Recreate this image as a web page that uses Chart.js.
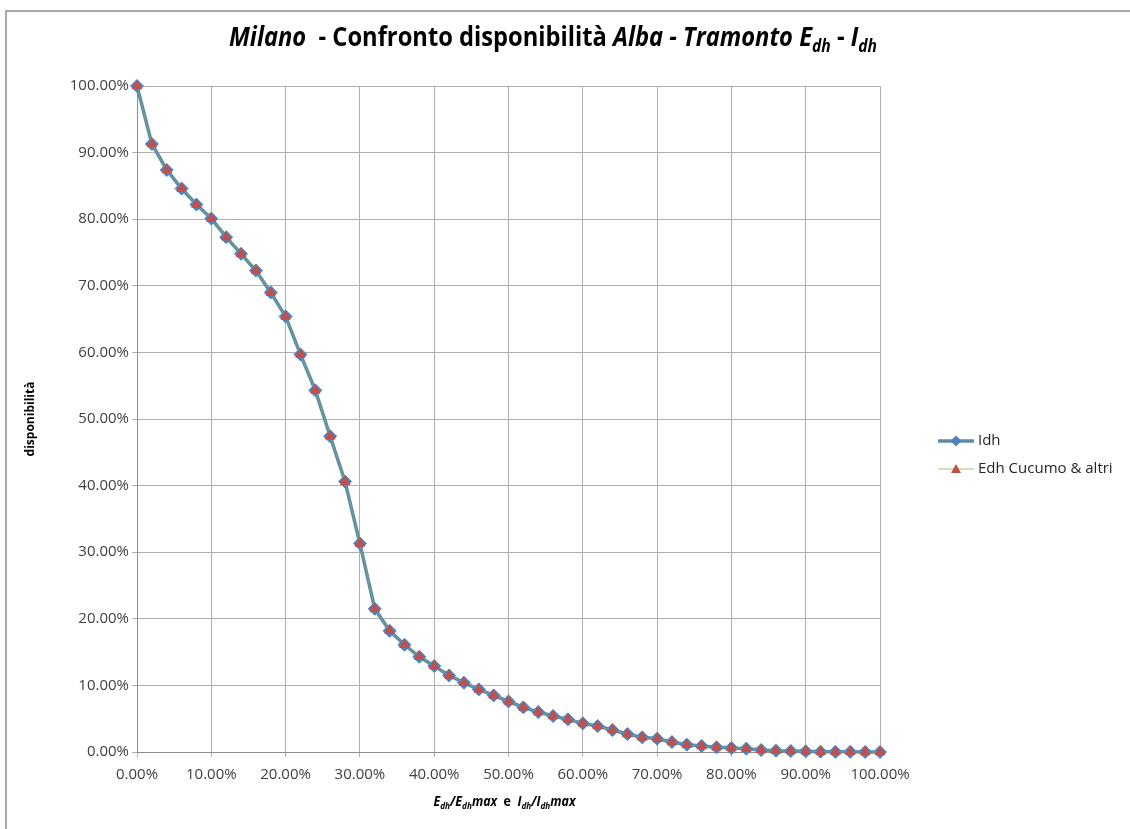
<!DOCTYPE html>
<html>
<head>
<meta charset="utf-8">
<script src="https://cdn.jsdelivr.net/npm/chart.js@4.4.0/dist/chart.umd.min.js"></script>
<style>
  html, body { margin: 0; padding: 0; background: #fff; }
  #wrap { position: relative; width: 1130px; height: 829px; overflow: hidden; background: #fff; }
  #frame { position: absolute; left: 5px; top: 10px; width: 1300px; height: 1000px;
           border-left: 2px solid #A8A8A8; border-top: 2px solid #A8A8A8; }
  canvas { position: absolute; left: 0; top: 0; }
</style>
</head>
<body>
<div id="wrap">
  <div id="frame"></div>
  <canvas id="c" width="1130" height="829"></canvas>
</div>
<script>
// Relative irradiance (share of the daily maximum), one sample every 2 %
const xShare = [0.00, 0.02, 0.04, 0.06, 0.08, 0.10, 0.12, 0.14, 0.16, 0.18,
                0.20, 0.22, 0.24, 0.26, 0.28, 0.30, 0.32, 0.34, 0.36, 0.38,
                0.40, 0.42, 0.44, 0.46, 0.48, 0.50, 0.52, 0.54, 0.56, 0.58,
                0.60, 0.62, 0.64, 0.66, 0.68, 0.70, 0.72, 0.74, 0.76, 0.78,
                0.80, 0.82, 0.84, 0.86, 0.88, 0.90, 0.92, 0.94, 0.96, 0.98, 1.00];

// Availability (%) – Idh series
const idh = [100.0, 91.3, 87.4, 84.6, 82.2, 80.1, 77.3, 74.8, 72.3, 69.0,
             65.4, 59.7, 54.3, 47.4, 40.6, 31.3, 21.5, 18.2, 16.1, 14.3,
             12.9, 11.5, 10.4, 9.4, 8.5, 7.6, 6.7, 6.0, 5.4, 4.9,
             4.3, 3.9, 3.3, 2.7, 2.2, 2.0, 1.5, 1.1, 0.9, 0.7,
             0.6, 0.5, 0.3, 0.2, 0.15, 0.1, 0.05, 0.03, 0.02, 0.01, 0.0];

// Availability (%) – Edh, Cucumo & altri
const edhCucumo = [100.0, 91.3, 87.4, 84.6, 82.2, 80.1, 77.3, 74.8, 72.3, 69.0,
                   65.4, 59.7, 54.3, 47.4, 40.6, 31.3, 21.5, 18.2, 16.1, 14.3,
                   12.9, 11.5, 10.4, 9.4, 8.5, 7.6, 6.7, 6.0, 5.4, 4.9,
                   4.3, 3.9, 3.3, 2.7, 2.2, 2.0, 1.5, 1.1, 0.9, 0.7,
                   0.6, 0.5, 0.3, 0.2, 0.15, 0.1, 0.05, 0.03, 0.02, 0.01, 0.0];

const xTickLabels = ['0.00%', '10.00%', '20.00%', '30.00%', '40.00%', '50.00%',
                     '60.00%', '70.00%', '80.00%', '90.00%', '100.00%'];
const yTickLabels = ['0.00%', '10.00%', '20.00%', '30.00%', '40.00%', '50.00%',
                     '60.00%', '70.00%', '80.00%', '90.00%', '100.00%'];

const seriesNames = ['Idh', 'Edh Cucumo & altri'];

const FONT = '"Open Sans", "Noto Sans", sans-serif';
const IDH_LINE = '#5B8CA4';
const IDH_MARK = '#4F81BD';
const EDH_LINE = '#A9C46C';
const EDH_MARK = '#C0504D';

function points(values) {
  return xShare.map((x, i) => ({ x: x, y: values[i] / 100 }));
}

function partFont(p, size) {
  const s = p.sub ? size * 0.66 : size;
  return (p.italic ? 'italic ' : '') + 'bold ' + s.toFixed(2) + 'px ' + FONT;
}

// Draws a run of text pieces (normal / italic / subscript) centred on cx,
// squeezed horizontally so the whole run is `width` pixels wide
function richText(ctx, parts, cx, baseline, size, width, color) {
  let total = 0;
  const widths = parts.map(p => { ctx.font = partFont(p, size); const w = ctx.measureText(p.t).width; total += w; return w; });
  const k = width / total;
  ctx.save();
  ctx.translate(cx - width / 2, baseline);
  ctx.scale(k, 1);
  ctx.fillStyle = color;
  ctx.textAlign = 'left';
  ctx.textBaseline = 'alphabetic';
  let x = 0;
  parts.forEach((p, i) => {
    ctx.font = partFont(p, size);
    ctx.fillText(p.t, x, p.sub ? size * 0.22 : 0);
    x += widths[i];
  });
  ctx.restore();
}

const titleParts = [
  { t: 'Milano', italic: true },
  { t: '  - Confronto disponibilità ' },
  { t: 'Alba - Tramonto', italic: true },
  { t: ' E', italic: true },
  { t: 'dh', italic: true, sub: true },
  { t: ' - ' },
  { t: 'I', italic: true },
  { t: 'dh', italic: true, sub: true }
];

const xTitleParts = [
  { t: 'E', italic: true }, { t: 'dh', italic: true, sub: true },
  { t: '/E', italic: true }, { t: 'dh', italic: true, sub: true },
  { t: 'max', italic: true }, { t: '  e  ' },
  { t: 'I', italic: true }, { t: 'dh', italic: true, sub: true },
  { t: '/I', italic: true }, { t: 'dh', italic: true, sub: true },
  { t: 'max', italic: true }
];

const decorations = {
  id: 'decorations',
  afterDraw(chart) {
    const ctx = chart.ctx;
    const area = chart.chartArea;
    ctx.save();

    // chart title
    richText(ctx, titleParts, 553, 46, 26, 648, '#000');

    // x-axis title
    richText(ctx, xTitleParts, (area.left + area.right) / 2 - 4, 806, 14, 142, '#000');

    // legend
    const lx = 938, lw = 36;
    const rows = [441, 469];
    ctx.font = '15px ' + FONT;
    ctx.textBaseline = 'middle';
    ctx.textAlign = 'left';

    // Idh entry
    let y = rows[0];
    ctx.strokeStyle = IDH_LINE; ctx.lineWidth = 3.5;
    ctx.beginPath(); ctx.moveTo(lx, y); ctx.lineTo(lx + lw, y); ctx.stroke();
    ctx.fillStyle = IDH_MARK;
    ctx.beginPath();
    ctx.moveTo(lx + lw / 2, y - 5.5); ctx.lineTo(lx + lw / 2 + 5.5, y);
    ctx.lineTo(lx + lw / 2, y + 5.5); ctx.lineTo(lx + lw / 2 - 5.5, y);
    ctx.closePath(); ctx.fill();
    ctx.fillStyle = '#262626';
    ctx.fillText(seriesNames[0], lx + lw + 4, y);

    // Edh entry
    y = rows[1];
    ctx.strokeStyle = EDH_LINE; ctx.lineWidth = 1.2;
    ctx.beginPath(); ctx.moveTo(lx, y); ctx.lineTo(lx + lw, y); ctx.stroke();
    ctx.fillStyle = EDH_MARK;
    ctx.beginPath();
    ctx.moveTo(lx + lw / 2, y - 5); ctx.lineTo(lx + lw / 2 + 5, y + 4);
    ctx.lineTo(lx + lw / 2 - 5, y + 4);
    ctx.closePath(); ctx.fill();
    ctx.fillStyle = '#262626';
    ctx.fillText(seriesNames[1], lx + lw + 4, y);

    ctx.restore();
  }
};

const tickIndex = v => Math.round(v * 10);

new Chart(document.getElementById('c'), {
  type: 'line',
  data: {
    datasets: [
      {
        label: seriesNames[1],
        data: points(edhCucumo),
        order: 0,
        clip: false,
        borderColor: 'rgba(169,196,108,0.35)',
        borderWidth: 1,
        pointStyle: 'triangle',
        pointRadius: 5.5,
        pointBackgroundColor: EDH_MARK,
        pointBorderColor: EDH_MARK,
        pointBorderWidth: 1,
        tension: 0
      },
      {
        label: seriesNames[0],
        data: points(idh),
        order: 1,
        clip: false,
        borderColor: IDH_LINE,
        borderWidth: 3.5,
        pointStyle: 'rectRot',
        pointRadius: 6.5,
        pointBackgroundColor: IDH_MARK,
        pointBorderColor: IDH_MARK,
        pointBorderWidth: 1,
        tension: 0
      }
    ]
  },
  options: {
    responsive: false,
    animation: false,
    events: [],
    layout: { padding: { left: 10, top: 86, right: 250, bottom: 0 } },
    plugins: {
      legend: { display: false },
      title: { display: false },
      tooltip: { enabled: false }
    },
    scales: {
      x: {
        type: 'linear',
        min: 0, max: 1,
        afterFit(s) { s.height = 77; },
        border: { color: '#8C8C8C', width: 1 },
        grid: { color: '#B0B0B0', lineWidth: 1, tickLength: 5, drawTicks: true },
        ticks: {
          stepSize: 0.1, autoSkip: false, maxRotation: 0, padding: 9,
          color: '#404040', font: { family: FONT, size: 15 },
          callback: v => xTickLabels[tickIndex(v)]
        }
      },
      y: {
        min: 0, max: 1,
        afterFit(s) { s.width = 127; },
        border: { color: '#8C8C8C', width: 1 },
        grid: { color: '#B0B0B0', lineWidth: 1, tickLength: 5 },
        ticks: {
          stepSize: 0.1, autoSkip: false, padding: 3,
          color: '#404040', font: { family: FONT, size: 15 },
          callback: v => yTickLabels[tickIndex(v)]
        },
        title: {
          display: true, text: 'disponibilità', color: '#000',
          font: { family: FONT, size: 12, weight: 'bold' },
          padding: { top: 13, bottom: 0 }
        }
      }
    }
  },
  plugins: [decorations]
});
</script>
</body>
</html>
